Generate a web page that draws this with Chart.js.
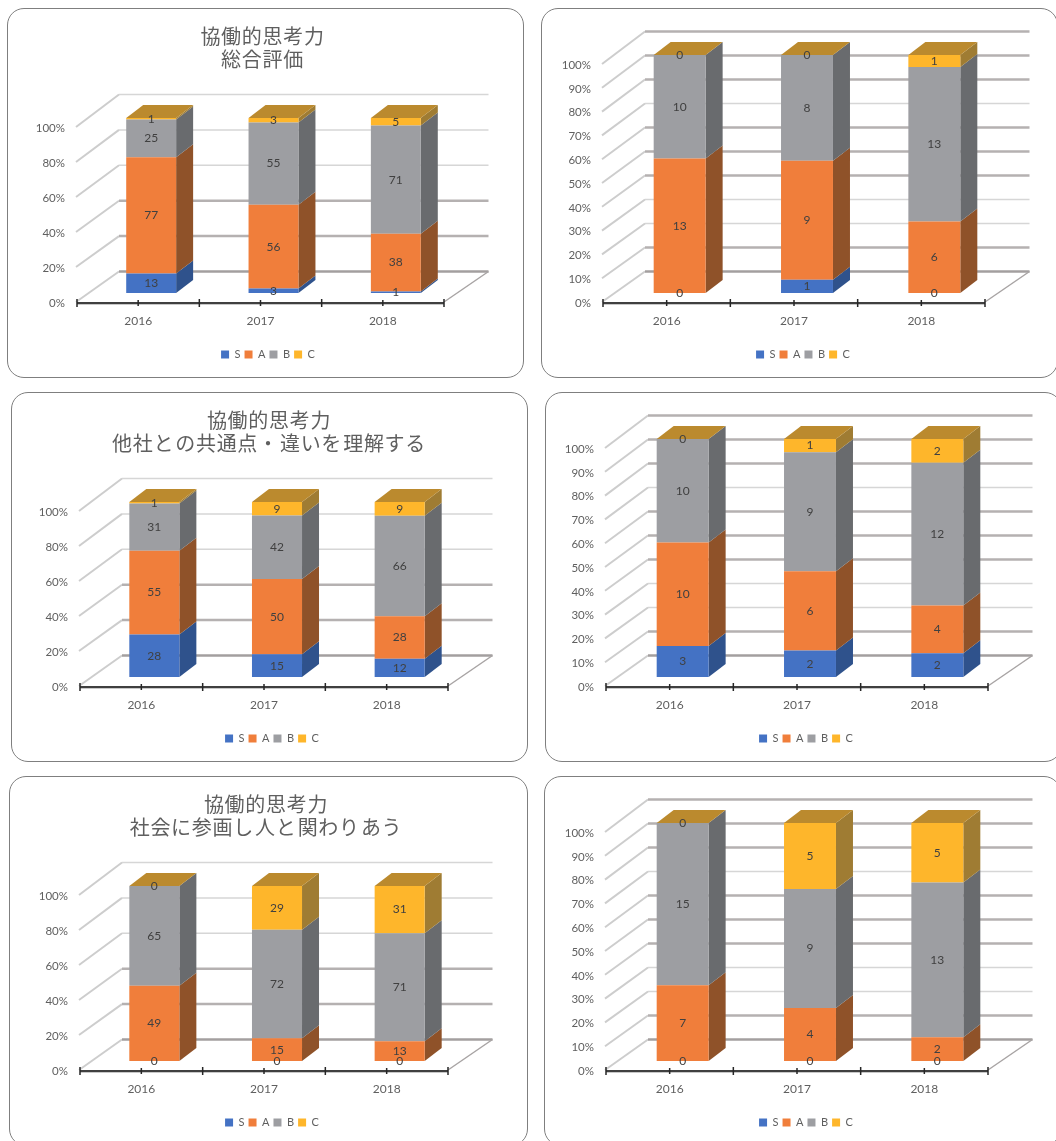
<!DOCTYPE html>
<html lang="ja">
<head>
    <meta charset="UTF-8">
    <title>協働的思考力</title>
    <script src="https://cdn.jsdelivr.net/npm/chart.js"></script>
    <style>
        html, body { margin: 0; padding: 0; background: #fff; width: 1056px; height: 1141px; overflow: hidden; }
        .panel { position: absolute; box-sizing: border-box; border: 1px solid #7f7f7f; border-radius: 17px; }
        canvas { position: absolute; }
    </style>
</head>
<body>
    <script>
        // 年度と評価
        const years = ['2016', '2017', '2018'];
        const grades = ['S', 'A', 'B', 'C'];
        const gradeColors = ['#4472c4', '#f07e3b', '#9d9ea2', '#feb62b'];
        const sideColors = ['#2f528c', '#8f5229', '#696b6e', '#9f7c33'];
        const topColor = '#bb8a2e';

        const sogo1 = { S: [13, 3, 1], A: [77, 56, 38], B: [25, 55, 71], C: [1, 3, 5] };
        const sogo2 = { S: [0, 1, 0], A: [13, 9, 6], B: [10, 8, 13], C: [0, 0, 1] };
        const tasha1 = { S: [28, 15, 12], A: [55, 50, 28], B: [31, 42, 66], C: [1, 9, 9] };
        const tasha2 = { S: [3, 2, 2], A: [10, 6, 4], B: [10, 9, 12], C: [0, 1, 2] };
        const shakai1 = { S: [0, 0, 0], A: [49, 15, 13], B: [65, 72, 71], C: [0, 29, 31] };
        const shakai2 = { S: [0, 0, 0], A: [7, 4, 2], B: [15, 9, 13], C: [0, 5, 5] };

        const titleSogo = ['協働的思考力', '総合評価'];
        const titleTasha = ['協働的思考力', '他社と の共通点・ 違いを 理解する'];
        const titleShakai = ['協働的思考力', '社会に参画し 人と 関わり あう'];

        // 太く見える目盛線
        const heavy20 = [40, 20, 0];
        const heavy10 = [100, 90, 80, 60, 50, 40, 10, 0];

        // 枠の位置と軸の位置（ページ座標）
        const panels = [
            { counts: sogo1, title: titleSogo, step: 20, box: [7, 8, 517, 370], canvasX: 18, left: 77, right: 444, top: 127, legendX: 268, titleX: 262.5, heavy: heavy20 },
            { counts: sogo2, title: null, step: 10, box: [541, 8, 517, 370], canvasX: 553, left: 603, right: 985, top: 64, legendX: 803, heavy: heavy10 },
            { counts: tasha1, title: titleTasha, step: 20, box: [11, 392, 517, 370], canvasX: 22, left: 80, right: 448, top: 511, legendX: 272, titleX: 269, heavy: heavy20 },
            { counts: tasha2, title: null, step: 10, box: [545, 392, 517, 370], canvasX: 556, left: 606, right: 988, top: 448, legendX: 806, heavy: heavy10 },
            { counts: shakai1, title: titleShakai, step: 20, box: [9, 776, 519, 370], canvasX: 22, left: 80, right: 448, top: 895, legendX: 272, titleX: 266, heavy: heavy20 },
            { counts: shakai2, title: null, step: 10, box: [544, 776, 517, 370], canvasX: 556, left: 606, right: 988, top: 832, legendX: 806, heavy: heavy10 }
        ];

        const CANVAS_W = 500;
        const CANVAS_H = 370;
        const AREA_BOTTOM = 294; // 枠の上端から 0% まで
        const LEGEND_BOTTOM = 8;
        const textColor = '#5f5f5f';
        const fontFamily = 'Lato, "Open Sans", sans-serif';

        // 奥行き
        const WALL = { dxLeft: 42, dxRight: 44.5, dyBottom: -30.5, dyTop: -32.5 };
        const BAR_SHIFT = { dx: 13, dy: -9 };
        const BAR_DEPTH = { dx: 17, dy: -13 };

        function poly(ctx, pts, color) {
            ctx.fillStyle = color;
            ctx.beginPath();
            pts.forEach((p, i) => i ? ctx.lineTo(p[0], p[1]) : ctx.moveTo(p[0], p[1]));
            ctx.closePath();
            ctx.fill();
        }

        function line(ctx, x1, y1, x2, y2, color, width) {
            ctx.strokeStyle = color;
            ctx.lineWidth = width;
            ctx.beginPath();
            ctx.moveTo(x1, y1);
            ctx.lineTo(x2, y2);
            ctx.stroke();
        }

        // タイトルと凡例は右の余白の分だけ中心がずれるので描くときに戻す
        function moveBox(chart, box, centerX, spacing) {
            if (!box || box.moved) return;
            const shift = centerX - (box.left + box.right) / 2;
            const draw = box.draw;
            box.draw = function() {
                const ctx = chart.ctx;
                ctx.save();
                ctx.translate(shift, 0);
                ctx.letterSpacing = spacing;
                ctx.wordSpacing = spacing === '0px' ? '0px' : '-4px';
                draw.call(box);
                ctx.restore();
            };
            box.moved = true;
        }

        // 3D の壁と棒の側面を描くプラグイン
        const bars3d = {
            id: 'bars3d',
            afterLayout(chart, args, opts) {
                moveBox(chart, chart.titleBlock, opts.titleCenter, '0.7px');
                moveBox(chart, chart.legend, opts.legendCenter, '0px');
            },
            beforeDatasetsDraw(chart, args, opts) {
                const ctx = chart.ctx;
                const area = chart.chartArea;
                const xs = chart.scales.x;
                const ys = chart.scales.y;

                // 壁の目盛線
                ys.ticks.forEach((tick, i) => {
                    const y = ys.getPixelForTick(i);
                    const backY = y + WALL.dyBottom + (WALL.dyTop - WALL.dyBottom) * tick.value / 100;
                    const heavy = opts.heavy.includes(tick.value);
                    const color = tick.value === 0 ? '#a39f9f' : (heavy ? '#b5b1b1' : '#d6d6d6');
                    line(ctx, area.left - 1, y, area.left + WALL.dxLeft, backY, '#cdcdcd', 2);
                    line(ctx, area.left + WALL.dxLeft, backY, area.right + WALL.dxRight, backY, color, heavy ? 2.5 : 1.5);
                });
                line(ctx, area.right, area.bottom, area.right + WALL.dxRight, area.bottom + WALL.dyBottom, '#a8a4a4', 1.5);

                // 横軸と目盛
                const axisY = area.bottom + 1;
                line(ctx, area.left, axisY + 1.5, area.right, axisY + 1.5, '#c8c8c8', 1);
                line(ctx, area.left, axisY, area.right, axisY, '#404040', 2);
                const half = (xs.getPixelForTick(1) - xs.getPixelForTick(0)) / 2;
                for (let i = 0; i < xs.ticks.length; i++) {
                    const c = xs.getPixelForTick(i);
                    line(ctx, c - half, axisY - 4, c - half, axisY + 4, '#262626', 1.5);
                    line(ctx, c, axisY - 3, c, axisY + 3, '#262626', 1.5);
                }
                const last = xs.getPixelForTick(xs.ticks.length - 1) + half;
                line(ctx, last, axisY - 4, last, axisY + 4, '#262626', 1.5);

                // 棒はここから手前の面ごと少しずらして描く
                ctx.save();
                ctx.translate(BAR_SHIFT.dx, BAR_SHIFT.dy);
                chart.data.datasets.forEach((ds, d) => {
                    chart.getDatasetMeta(d).data.forEach(bar => {
                        const x = bar.x + bar.width / 2;
                        poly(ctx, [
                            [x, bar.y], [x + BAR_DEPTH.dx, bar.y + BAR_DEPTH.dy],
                            [x + BAR_DEPTH.dx, bar.base + BAR_DEPTH.dy], [x, bar.base]
                        ], sideColors[d]);
                    });
                });
                const lastMeta = chart.getDatasetMeta(chart.data.datasets.length - 1);
                lastMeta.data.forEach(bar => {
                    const l = bar.x - bar.width / 2;
                    const r = bar.x + bar.width / 2;
                    poly(ctx, [
                        [l, bar.y], [r, bar.y],
                        [r + BAR_DEPTH.dx, bar.y + BAR_DEPTH.dy], [l + BAR_DEPTH.dx, bar.y + BAR_DEPTH.dy]
                    ], topColor);
                });
            },
            afterDatasetsDraw(chart) {
                const ctx = chart.ctx;
                // データラベル（人数）
                ctx.fillStyle = '#404040';
                ctx.font = '12px ' + fontFamily;
                ctx.textAlign = 'center';
                ctx.textBaseline = 'middle';
                chart.data.datasets.forEach((ds, d) => {
                    chart.getDatasetMeta(d).data.forEach((bar, i) => {
                        ctx.fillText(ds.counts[i], bar.x, (bar.y + bar.base) / 2);
                    });
                });
                ctx.restore();
            }
        };

        function toPercent(counts) {
            const totals = years.map((y, i) => grades.reduce((sum, g) => sum + counts[g][i], 0));
            return grades.map(g => counts[g].map((v, i) => v / totals[i] * 100));
        }

        panels.forEach(p => {
            const panel = document.createElement('div');
            panel.className = 'panel';
            panel.style.left = p.box[0] + 'px';
            panel.style.top = p.box[1] + 'px';
            panel.style.width = p.box[2] + 'px';
            panel.style.height = p.box[3] + 'px';
            document.body.appendChild(panel);

            const canvas = document.createElement('canvas');
            canvas.width = CANVAS_W;
            canvas.height = CANVAS_H;
            canvas.style.left = p.canvasX + 'px';
            canvas.style.top = p.box[1] + 'px';
            document.body.appendChild(canvas);

            const percent = toPercent(p.counts);
            const areaTop = p.top - p.box[1];

            new Chart(canvas.getContext('2d'), {
                type: 'bar',
                data: {
                    labels: years,
                    datasets: grades.map((g, i) => ({
                        label: g,
                        data: percent[i],
                        counts: p.counts[g],
                        backgroundColor: gradeColors[i],
                        borderWidth: 0,
                        barPercentage: 1,
                        categoryPercentage: 0.408,
                        clip: false
                    }))
                },
                options: {
                    responsive: false,
                    animation: false,
                    layout: {
                        padding: {
                            top: p.title ? 0 : areaTop,
                            right: p.canvasX + CANVAS_W - p.right,
                            bottom: LEGEND_BOTTOM,
                            left: 0
                        }
                    },
                    scales: {
                        x: {
                            stacked: true,
                            grid: { display: false, drawTicks: false },
                            border: { display: false },
                            afterFit(scale) { scale.height = CANVAS_H - LEGEND_BOTTOM - scale.chart.legend.height - AREA_BOTTOM; },
                            ticks: { color: textColor, font: { family: fontFamily, size: 12 }, padding: 11.5, maxRotation: 0 }
                        },
                        y: {
                            stacked: true,
                            min: 0,
                            max: 100,
                            grid: { display: false, drawTicks: false },
                            border: { display: false },
                            afterFit(scale) { scale.width = p.left - p.canvasX; },
                            ticks: {
                                stepSize: p.step,
                                color: textColor,
                                font: { family: fontFamily, size: 11.5 },
                                padding: 12,
                                labelOffset: 1,
                                callback: v => v + '%'
                            }
                        }
                    },
                    plugins: {
                        tooltip: { enabled: false },
                        title: {
                            display: !!p.title,
                            text: p.title || '',
                            color: textColor,
                            font: { family: '"Noto Sans CJK JP"', size: 20, weight: 'normal', lineHeight: 23 / 20 },
                            padding: { top: 16.5, bottom: areaTop - 16.5 - 46 }
                        },
                        legend: {
                            position: 'bottom',
                            labels: {
                                boxWidth: 8,
                                boxHeight: 8,
                                padding: 4,
                                color: textColor,
                                font: { family: fontFamily, size: 11 }
                            }
                        },
                        bars3d: { heavy: p.heavy, titleCenter: p.titleX - p.canvasX, legendCenter: p.legendX - p.canvasX }
                    }
                },
                plugins: [bars3d]
            });
        });
    </script>
</body>
</html>
